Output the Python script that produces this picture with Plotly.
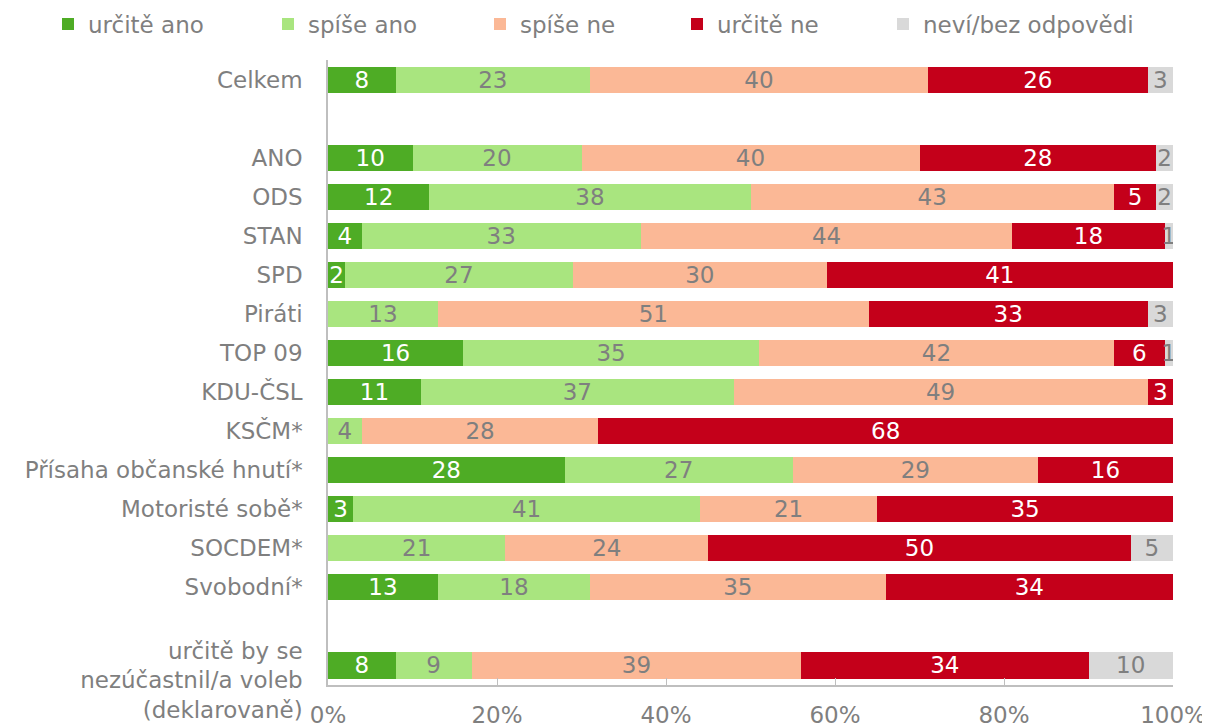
import plotly.graph_objects as go

categories = ["Celkem", " ", "ANO", "ODS", "STAN", "SPD", "Piráti", "TOP 09", "KDU-ČSL",
              "KSČM*", "Přísaha občanské hnutí*", "Motoristé sobě*", "SOCDEM*", "Svobodní*",
              "  ", "<br>určitě by se<br>nezúčastnil/a voleb<br>(deklarovaně)"]

series_names = ["určitě ano", "spíše ano", "spíše ne", "určitě ne", "neví/bez odpovědi"]

urcite_ano = [8, None, 10, 12, 4, 2, 0, 16, 11, 0, 28, 3, 0, 13, None, 8]
spise_ano = [23, None, 20, 38, 33, 27, 13, 35, 37, 4, 27, 41, 21, 18, None, 9]
spise_ne = [40, None, 40, 43, 44, 30, 51, 42, 49, 28, 29, 21, 24, 35, None, 39]
urcite_ne = [26, None, 28, 5, 18, 41, 33, 6, 3, 68, 16, 35, 50, 34, None, 34]
nevi = [3, None, 2, 2, 1, 0, 3, 1, 0, 0, 0, 0, 5, 0, None, 10]

colors = ["#4EAC25", "#A9E57F", "#FBB896", "#C4001A", "#D9D9D9"]
text_colors = ["#FFFFFF", "#7F7F7F", "#7F7F7F", "#FFFFFF", "#7F7F7F"]

# legend placement (container pixels) for each series
legend_x_px = [40, 260, 472, 669, 875]

FONT = "DejaVu Sans, Verdana, sans-serif"
GREY = "#7F7F7F"
FS = 23
W, H = 1210, 726

fig = go.Figure()
legend_ids = ["legend", "legend2", "legend3", "legend4", "legend5"]
for name, vals, col, tcol, lid in zip(series_names,
                                      [urcite_ano, spise_ano, spise_ne, urcite_ne, nevi],
                                      colors, text_colors, legend_ids):
    fig.add_trace(go.Bar(
        name=name,
        y=categories,
        x=[v / 100 if v is not None else None for v in vals],
        orientation="h",
        marker=dict(color=col, line=dict(width=0)),
        text=[str(v) if v else "" for v in vals],
        texttemplate="%{text}",
        textposition="inside",
        insidetextanchor="middle",
        textangle=0,
        textfont=dict(color=tcol, size=FS, family=FONT),
        hoverinfo="skip",
        legend=lid,
    ))

layout_legends = {}
for lid, lx in zip(legend_ids, legend_x_px):
    layout_legends[lid] = dict(
        orientation="h",
        xref="container", yref="container",
        x=lx / W, xanchor="left",
        y=1 - 16 / H, yanchor="middle",
        font=dict(size=FS, color=GREY, family=FONT),
        bgcolor="rgba(0,0,0,0)",
        itemclick=False,
    )

fig.update_layout(
    barmode="stack",
    bargap=0.333,
    width=W,
    height=H,
    margin=dict(l=320, r=45, t=52, b=49, autoexpand=False),
    paper_bgcolor="white",
    plot_bgcolor="white",
    font=dict(family=FONT, size=FS, color=GREY),
    uniformtext=dict(minsize=FS, mode="show"),
    showlegend=True,
    **layout_legends,
)

fig.update_xaxes(
    range=[0, 1],
    tickvals=[0, 0.2, 0.4, 0.6, 0.8, 1.0],
    tickformat=".0%",
    showgrid=False,
    zeroline=False,
    showline=True,
    linecolor="#BFBFBF",
    linewidth=1.5,
    ticks="inside",
    ticklen=7,
    tickcolor="#BFBFBF",
    ticklabelstandoff=9,
    tickfont=dict(size=FS, color=GREY),
    automargin=False,
)

fig.update_yaxes(
    type="category",
    categoryorder="array",
    categoryarray=categories,
    autorange="reversed",
    showgrid=False,
    zeroline=False,
    showline=True,
    linecolor="#BFBFBF",
    linewidth=1.5,
    ticks="",
    ticklabelstandoff=19,
    tickfont=dict(size=FS, color=GREY),
    automargin=False,
)

fig.write_html("out.html")
